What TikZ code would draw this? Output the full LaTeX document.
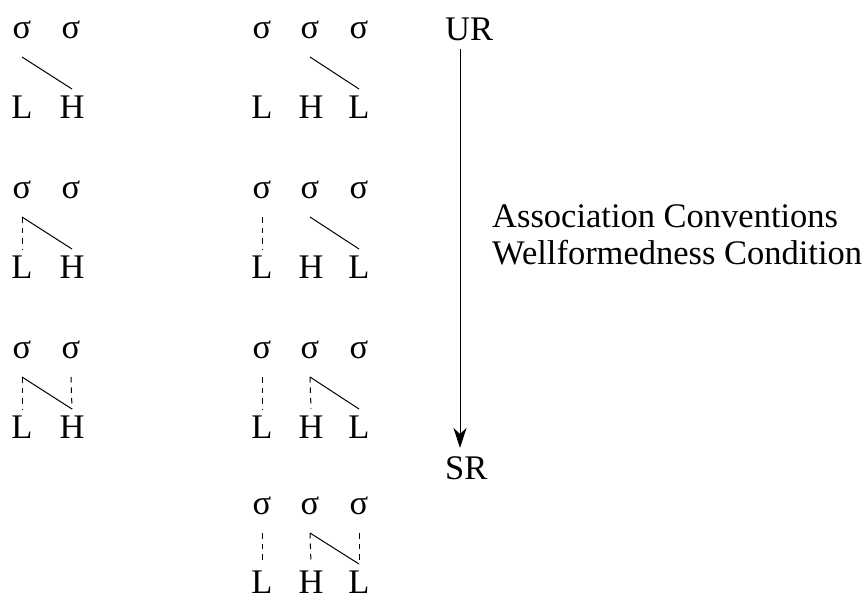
\documentclass[tikz,border=0pt]{standalone}
\usepackage{fontspec}
\setmainfont{Liberation Serif}
\usetikzlibrary{arrows.meta}
\newcommand\assocline[3][]{\draw[assoc,#1] ([yshift=-19pt]#2.base) -- ([yshift=29pt]#3.base);}
\begin{document}
\begin{tikzpicture}[x=1pt,y=-1pt,
  lbl/.style={font=\fontsize{34.5}{40}\selectfont, inner sep=0pt, anchor=base},
  assoc/.style={line width=1pt},
  dashassoc/.style={dash pattern=on 5.5pt off 5pt},
  ]
\useasboundingbox (0,0) rectangle (868,598);
% column 1
\foreach \r in {1,2,3}{
  \pgfmathsetmacro\ys{38+160*(\r-1)}
  \pgfmathsetmacro\yt{118+160*(\r-1)}
  \node[lbl] (a\r s1) at (22,\ys) {σ};
  \node[lbl] (a\r s2) at (71,\ys) {σ};
  \node[lbl] (a\r t1) at (22,\yt) {L};
  \node[lbl] (a\r t2) at (72,\yt) {H};
}
% column 2
\foreach \r in {1,2,3,4}{
  \pgfmathsetmacro\ys{38+160*(\r-1)-(\r==4 ? 4 : 0)}
  \pgfmathsetmacro\yt{118+160*(\r-1)-(\r==4 ? 5 : 0)}
  \node[lbl] (b\r s1) at (262,\ys) {σ};
  \node[lbl] (b\r s2) at (310,\ys) {σ};
  \node[lbl] (b\r s3) at (359,\ys) {σ};
  \node[lbl] (b\r t1) at (262,\yt) {L};
  \node[lbl] (b\r t2) at (311,\yt) {H};
  \node[lbl] (b\r t3) at (359,\yt) {L};
}
% associations, column 1
\assocline{a1s1}{a1t2}
\assocline{a2s1}{a2t2}
\assocline[dashassoc]{a2s1}{a2t1}
\assocline{a3s1}{a3t2}
\assocline[dashassoc]{a3s1}{a3t1}
\assocline[dashassoc]{a3s2}{a3t2}
% associations, column 2
\assocline{b1s2}{b1t3}
\assocline{b2s2}{b2t3}
\assocline[dashassoc]{b2s1}{b2t1}
\assocline{b3s2}{b3t3}
\assocline[dashassoc]{b3s1}{b3t1}
\assocline[dashassoc]{b3s2}{b3t2}
\assocline{b4s2}{b4t3}
\assocline[dashassoc]{b4s1}{b4t1}
\assocline[dashassoc]{b4s2}{b4t2}
\assocline[dashassoc]{b4s3}{b4t3}
% derivation arrow
\node[lbl, anchor=base west] (ur) at (445,40) {UR};
\node[lbl, anchor=base west] (sr) at (445,479) {SR};
\draw[line width=1pt, -{Stealth[length=20pt,width=13pt,inset=6pt]}]
  ([xshift=15pt,yshift=-8pt]ur.south west) -- ([xshift=15pt,yshift=8pt]sr.north west);
\node[lbl, anchor=base west] (ac) at (492,227) {Association Conventions};
\node[lbl, anchor=base west] (wc) at (492,264) {Wellformedness Condition};
\end{tikzpicture}
\end{document}
